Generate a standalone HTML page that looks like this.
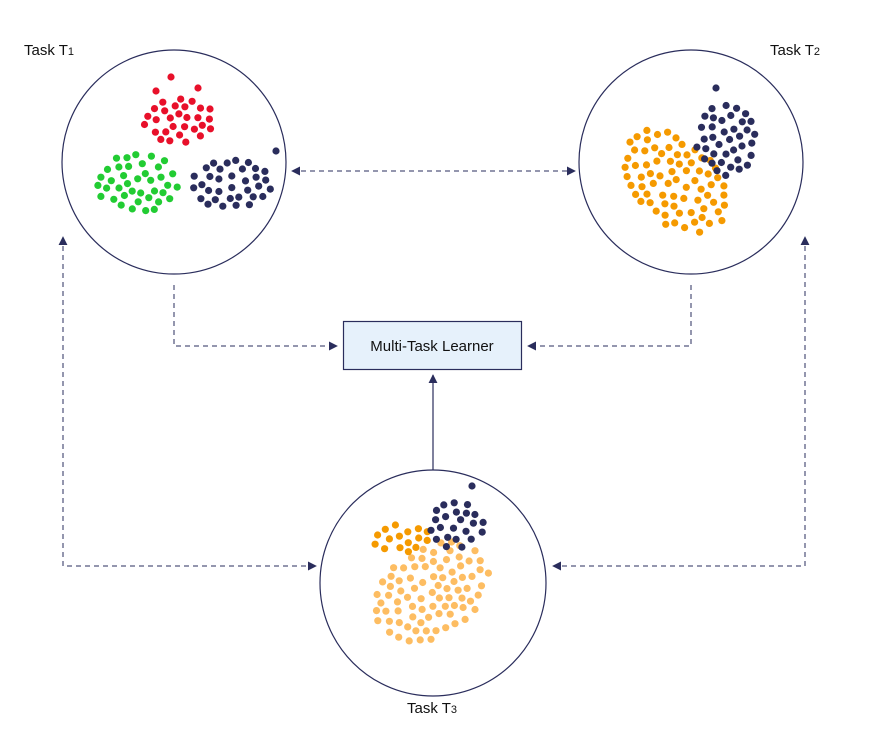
<!DOCTYPE html>
<html><head><meta charset="utf-8"><style>
html,body{margin:0;padding:0;background:#fff;}
svg{display:block;}
text{font-family:"Liberation Sans",sans-serif;font-size:15px;fill:#111;}
</style></head><body>
<svg id="s" width="870" height="744" viewBox="0 0 870 744" xmlns="http://www.w3.org/2000/svg">
<defs>
<marker id="a" viewBox="0 0 10 10" refX="9" refY="5" markerWidth="9" markerHeight="9" markerUnits="userSpaceOnUse" orient="auto-start-reverse"><path d="M0,0 L10,5 L0,10 z" fill="#2a2d5c"/></marker>
</defs>
<g fill="none" stroke="#2a2d5c" stroke-width="1.2">
<circle cx="174" cy="162" r="112"/>
<circle cx="691" cy="162" r="112"/>
<circle cx="433" cy="583" r="113"/>
</g>
<g fill="none" stroke="#2a2d5c" stroke-width="1" stroke-dasharray="5,4">
<line x1="292" y1="171" x2="575" y2="171" marker-start="url(#a)" marker-end="url(#a)"/>
<polyline points="174,285 174,346 337,346" marker-end="url(#a)"/>
<polyline points="691,285 691,346 528,346" marker-end="url(#a)"/>
<polyline points="63,237 63,566 316,566" marker-start="url(#a)" marker-end="url(#a)"/>
<polyline points="805,237 805,566 553,566" marker-start="url(#a)" marker-end="url(#a)"/>
</g>
<line x1="433" y1="470" x2="433" y2="375" stroke="#2a2d5c" stroke-width="1.2" marker-end="url(#a)"/>
<rect x="343.5" y="321.5" width="178" height="48" fill="#e6f1fb" stroke="#2a2d5c" stroke-width="1.2"/>
<text x="432" y="351" text-anchor="middle">Multi-Task Learner</text>
<text x="24" y="55">Task T<tspan font-size="11">1</tspan></text>
<text x="770" y="55">Task T<tspan font-size="11">2</tspan></text>
<text x="407" y="713">Task T<tspan font-size="11">3</tspan></text>
<g id="d"></g>
</svg>
<script>
var st=123456789;function r(){st|=0;st=st+0x6D2B79F5|0;var t=Math.imul(st^st>>>15,1|st);t=t+Math.imul(t^t>>>7,61|t)^t;return((t^t>>>14)>>>0)/4294967296;}
var g=document.getElementById('d'),ns="http://www.w3.org/2000/svg";
function dot(x,y,c){var e=document.createElementNS(ns,'circle');e.setAttribute('cx',x.toFixed(1));e.setAttribute('cy',y.toFixed(1));e.setAttribute('r','3.6');e.setAttribute('fill',c);g.appendChild(e);}
function cl(cx,cy,rx,ry,n,c,rot,md){rot=rot||0;md=md||8.6;var cs=Math.cos(rot),sn=Math.sin(rot),pts=[],tries=0;
while(pts.length<n&&tries<20000){tries++;var x=(r()*2-1)*rx,y=(r()*2-1)*ry;if(x*x/(rx*rx)+y*y/(ry*ry)>1)continue;
var X=cx+x*cs-y*sn,Y=cy+x*sn+y*cs,ok=true;for(var i=0;i<pts.length;i++){var dx=pts[i][0]-X,dy=pts[i][1]-Y;if(dx*dx+dy*dy<md*md){ok=false;break;}}
if(ok){pts.push([X,Y]);dot(X,Y,c);}}}
var R='#e8102a',G='#22cc33',N='#2a2d5c',O='#f59a00',L='#fdbd62';
cl(180,121,36,22,45,R);dot(171,77,R);dot(156,91,R);dot(198,88,R);
cl(138,183,42,29,55,G);
cl(230,184,42,24,48,N);dot(276,151,N);
cl(676,182,62,40,120,O,0.8,8.8);
cl(726,140,30,36,42,N);dot(716,88,N);
cl(432,592,62,44,115,L,-0.6,8.8);
cl(402,538,32,14,30,O);
cl(456,525,28,24,36,N);dot(472,486,N);
</script>
</body></html>
